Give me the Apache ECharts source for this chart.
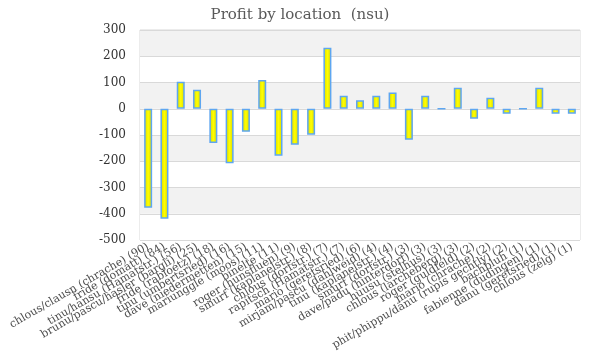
<!DOCTYPE html>
<html><head><meta charset="utf-8">
<script src="https://cdn.jsdelivr.net/npm/echarts@6/dist/echarts.min.js"></script>
<style>html,body{margin:0;padding:0;background:#fff}#c{width:600px;height:360px}</style>
</head><body><div id="c"></div>
<script>
var categories = [
  "chlous/clausn (chrache) (90)",
  "fride (domatt) (84)",
  "tinu/hansu (Hamatstr.) (56)",
  "brunu/pascu/hasler (bargli) (25)",
  "fride (rabloetz) (18)",
  "tinu (umbertsried) (16)",
  "dave (niedermetten) (15)",
  "mariunggle (moos) (11)",
  "binelte (11)",
  "roger (hunsfluen) (9)",
  "smurf (kaplanelstr.) (8)",
  "chlous (dorfstr.) (7)",
  "rapitsch (Hamatstr.) (7)",
  "mario (geretsried) (6)",
  "mirjam/pascu (dahlweid) (4)",
  "tinu (kaplanelstr.) (4)",
  "smurf (dorfstr.) (3)",
  "dave/padu (hinterdorf) (3)",
  "huusu (stelhus) (3)",
  "chlous (larcheberg) (3)",
  "roger (guldfeld) (2)",
  "mario (chrache) (2)",
  "phit/phippu/dänu (rupis gechtly) (2)",
  "bachbluh (1)",
  "fabienne (dudingen) (1)",
  "dänu (geretsried) (1)",
  "chlous (zelg) (1)"
];
var profit = [-377, -419, 103, 72, -130, -208, -88, 110, -179, -137, -99, 232, 50, 32, 50, 62, -118, 50, 0, 80, -38, 42, -19, 0, 80, -19, -19];
var yTicks = { min: -500, max: 300, step: 100 };
var title = "Profit by location  (nsu)";

var chart = echarts.init(document.getElementById('c'));
var serif = "DejaVu Serif";
chart.setOption({
  animation: false,
  backgroundColor: '#fff',
  title: { text: title, left: 'center', top: 3,
    textStyle: { fontFamily: serif, fontSize: 15, fontWeight: 'normal', color: '#595959' } },
  grid: { left: 140, right: 20, top: 30, bottom: 120, show: true, borderColor: '#d9d9d9', borderWidth: 1, backgroundColor: 'transparent' },
  xAxis: {
    type: 'category', data: categories,
    axisLine: { show: false }, axisTick: { show: false },
    axisLabel: { interval: 0, rotate: 30, fontFamily: serif, fontSize: 11, color: '#4d4d4d', margin: 6 }
  },
  yAxis: {
    type: 'value', min: yTicks.min, max: yTicks.max, interval: yTicks.step,
    axisLine: { show: false }, axisTick: { show: false },
    axisLabel: { fontFamily: serif, fontSize: 12, color: '#333', margin: 14 },
    splitLine: { lineStyle: { color: '#d9d9d9', width: 1 } },
    splitArea: { show: true, areaStyle: { color: ['#ffffff', '#f2f2f2'] } }
  },
  series: [{
    type: 'bar', data: profit, barWidth: 8,
    itemStyle: {
      color: new echarts.graphic.LinearGradient(0, 0, 1, 0, [
        { offset: 0, color: '#d6d600' }, { offset: 0.5, color: '#ffff00' }, { offset: 1, color: '#d6d600' }
      ]),
      borderColor: '#5ea6f0', borderWidth: 1.5
    }
  }]
});
</script></body></html>
